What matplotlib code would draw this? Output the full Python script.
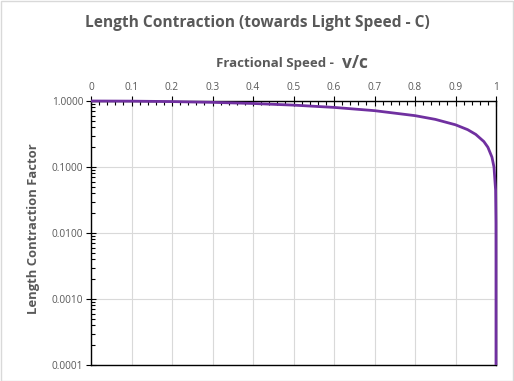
import matplotlib.pyplot as plt
from matplotlib.ticker import MultipleLocator, FixedLocator, FuncFormatter
from matplotlib.patches import Rectangle

# fractional speed v/c and the length contraction factor
speed = [0, 0.1, 0.2, 0.3, 0.4, 0.5, 0.6, 0.7, 0.8, 0.85, 0.9, 0.93, 0.95,
         0.97, 0.98, 0.99, 0.995, 0.999, 0.9999, 0.99999, 0.999999,
         0.9999999, 0.99999999, 0.999999995]
factor = [1.0, 0.995, 0.980, 0.954, 0.917, 0.866, 0.800, 0.714, 0.600,
          0.527, 0.436, 0.368, 0.312, 0.243, 0.199, 0.141, 0.100, 0.0447,
          0.01414, 0.00447, 0.001414, 0.000447, 0.0001414, 0.0001]
x_ticks = [0, 0.1, 0.2, 0.3, 0.4, 0.5, 0.6, 0.7, 0.8, 0.9, 1.0]
x_tick_labels = ['0', '0.1', '0.2', '0.3', '0.4', '0.5', '0.6', '0.7', '0.8', '0.9', '1']
y_ticks = [0.0001, 0.001, 0.01, 0.1, 1.0]

plt.rcParams['font.family'] = ['Open Sans', 'DejaVu Sans']
grey = '#595959'

fig = plt.figure(figsize=(5.14, 3.81), dpi=100)
ax = fig.add_axes([91/514, 1 - 365/381, (496 - 91)/514, (365 - 101)/381])

ax.plot(speed, factor, color='#7030A0', lw=2.0, solid_capstyle='butt', zorder=3, clip_on=False)

ax.set_yscale('log')
ax.set_xlim(0, 1)
ax.set_ylim(0.0001, 1.0)

ax.xaxis.tick_top()
ax.xaxis.set_major_locator(FixedLocator(x_ticks))
ax.set_xticklabels(x_tick_labels)
ax.xaxis.set_minor_locator(MultipleLocator(0.02))
ax.yaxis.set_major_locator(FixedLocator(y_ticks))
ax.yaxis.set_major_formatter(FuncFormatter(lambda v, p: f'{v:.4f}'))

ax.tick_params(axis='x', which='major', direction='inout', length=7, width=0.8,
               colors='black', labelcolor=grey, labelsize=7.3, pad=2)
ax.tick_params(axis='x', which='minor', direction='in', length=3, width=0.8, color='black')
ax.tick_params(axis='y', which='major', direction='inout', length=7, width=0.8,
               colors='black', labelcolor=grey, labelsize=7.3, pad=2)
ax.tick_params(axis='y', which='minor', direction='in', length=3, width=0.8, color='black')

ax.grid(True, which='major', color='#D9D9D9', lw=0.8)
for s in ax.spines.values():
    s.set_color('black')
    s.set_linewidth(1.0)

fig.text(0.5, 1 - 23/381, 'Length Contraction (towards Light Speed - C)',
         ha='center', va='center', fontsize=11.2, fontweight='bold', color=grey)
fig.text(334/514, 1 - 64/381, 'Fractional Speed -', ha='right', va='center',
         fontsize=9.5, fontweight='bold', color=grey)
fig.text(342/514, 1 - 63/381, 'v/c', ha='left', va='center',
         fontsize=12.5, fontweight='bold', color=grey)
fig.text(34/514, 1 - 229/381, 'Length Contraction Factor', ha='center', va='center',
         rotation=90, fontsize=9.4, fontweight='bold', color=grey)

fig.patches.append(Rectangle((0.001, 0.001), 0.997, 0.996, transform=fig.transFigure,
                             fill=False, edgecolor='#D9D9D9', lw=1.0))

fig.savefig('out.png', dpi=100)
